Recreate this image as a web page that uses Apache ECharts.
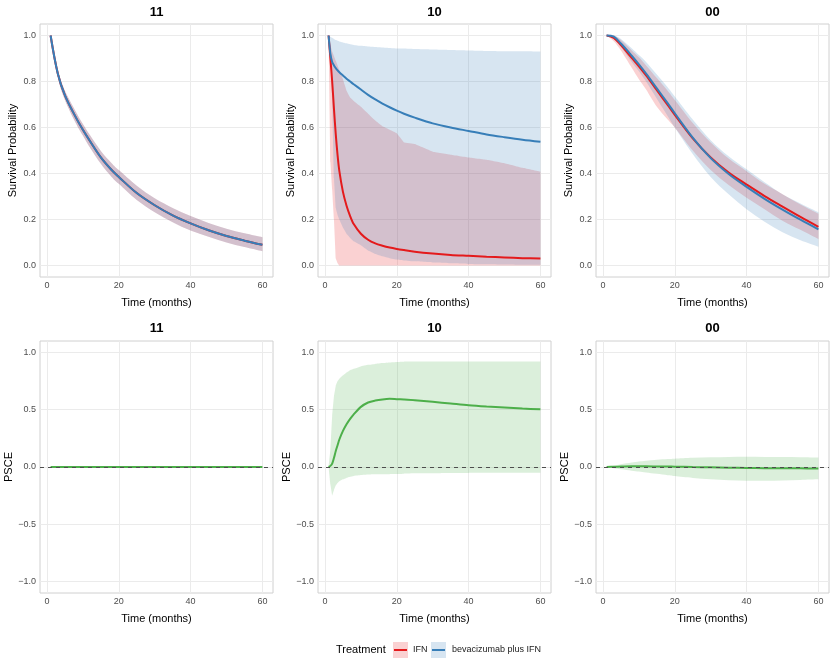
<!DOCTYPE html>
<html><head><meta charset="utf-8">
<script src="https://cdn.jsdelivr.net/npm/echarts@6/dist/echarts.min.js"></script>
<style>html,body{margin:0;padding:0;background:#fff}#c{width:836px;height:664px}</style>
</head><body><div id="c"></div>
<script>
// ---------------- DATA ----------------
const panelTitles = ['11', '10', '00'];
const xTicks = [0, 20, 40, 60];
const survTicks = [0, 0.2, 0.4, 0.6, 0.8, 1.0];
const psceTicks = [-1, -0.5, 0, 0.5, 1];
const treatments = ['IFN', 'bevacizumab plus IFN'];

const timeA = [1, 3, 5, 8, 10, 12, 15, 18, 20, 25, 30, 35, 40, 45, 50, 55, 60];
const time10 = [1, 1.5, 2, 2.5, 3, 3.5, 4, 5, 6, 7, 8, 10, 12, 14, 16, 18, 20, 22, 25, 30, 35, 40, 45, 50, 55, 60];

// Stratum 11 (timeA)
const ifnSurv11 = [1.0, 0.835, 0.74, 0.645, 0.59, 0.54, 0.47, 0.415, 0.385, 0.315, 0.262, 0.218, 0.183, 0.153, 0.128, 0.108, 0.09];
const ifnLo11   = [1.0, 0.82, 0.72, 0.62, 0.565, 0.512, 0.442, 0.385, 0.355, 0.285, 0.232, 0.188, 0.152, 0.125, 0.1, 0.08, 0.062];
const ifnHi11   = [1.0, 0.85, 0.76, 0.67, 0.615, 0.566, 0.498, 0.445, 0.415, 0.347, 0.292, 0.25, 0.215, 0.185, 0.16, 0.14, 0.123];
const bevSurv11 = [1.0, 0.835, 0.74, 0.645, 0.59, 0.54, 0.47, 0.415, 0.385, 0.315, 0.262, 0.218, 0.183, 0.153, 0.128, 0.108, 0.09];
const bevLo11   = [1.0, 0.82, 0.72, 0.62, 0.565, 0.512, 0.442, 0.385, 0.355, 0.285, 0.232, 0.188, 0.152, 0.125, 0.1, 0.08, 0.062];
const bevHi11   = [1.0, 0.85, 0.76, 0.67, 0.615, 0.566, 0.498, 0.445, 0.415, 0.347, 0.292, 0.25, 0.215, 0.185, 0.16, 0.14, 0.123];
const psce11    = [0, 0, 0, 0, 0, 0, 0, 0, 0, 0, 0, 0, 0, 0, 0, 0, 0];
const psceLo11  = [0, -0.002, -0.002, -0.003, -0.003, -0.003, -0.003, -0.003, -0.003, -0.003, -0.003, -0.003, -0.003, -0.003, -0.003, -0.003, -0.003];
const psceHi11  = [0, 0.002, 0.002, 0.003, 0.003, 0.003, 0.003, 0.003, 0.003, 0.003, 0.003, 0.003, 0.003, 0.003, 0.003, 0.003, 0.003];

// Stratum 10 (time10)
const ifnSurv10 = [1.0, 0.9, 0.8, 0.68, 0.57, 0.48, 0.41, 0.32, 0.26, 0.215, 0.18, 0.138, 0.112, 0.096, 0.086, 0.078, 0.072, 0.067, 0.06, 0.052, 0.046, 0.042, 0.038, 0.035, 0.032, 0.03];
const ifnLo10   = [1.0, 0.45, 0.33, 0.2, 0.03, 0.01, 0.0, 0, 0, 0, 0, 0, 0, 0, 0, 0, 0, 0, 0, 0, 0, 0, 0, 0, 0, 0];
const ifnHi10   = [1.0, 0.96, 0.93, 0.91, 0.89, 0.87, 0.85, 0.81, 0.76, 0.73, 0.715, 0.69, 0.66, 0.63, 0.605, 0.59, 0.575, 0.535, 0.528, 0.495, 0.482, 0.47, 0.46, 0.445, 0.425, 0.408];
const bevSurv10 = [1.0, 0.92, 0.885, 0.87, 0.858, 0.848, 0.84, 0.826, 0.812, 0.8, 0.788, 0.765, 0.742, 0.722, 0.704, 0.688, 0.673, 0.66, 0.643, 0.618, 0.6, 0.585, 0.57, 0.558, 0.547, 0.538];
const bevLo10   = [1.0, 0.93, 0.72, 0.38, 0.25, 0.22, 0.2, 0.165, 0.138, 0.12, 0.105, 0.088, 0.065, 0.05, 0.04, 0.032, 0.026, 0.022, 0.018, 0.013, 0.01, 0.007, 0.005, 0.004, 0.003, 0.003];
const bevHi10   = [1.0, 0.995, 0.99, 0.985, 0.98, 0.977, 0.974, 0.97, 0.966, 0.962, 0.959, 0.955, 0.952, 0.95, 0.948, 0.946, 0.944, 0.943, 0.941, 0.939, 0.937, 0.935, 0.933, 0.932, 0.931, 0.93];
const psce10    = [0, 0.01, 0.03, 0.08, 0.14, 0.19, 0.24, 0.315, 0.373, 0.42, 0.46, 0.525, 0.563, 0.58, 0.59, 0.595, 0.592, 0.589, 0.583, 0.569, 0.554, 0.539, 0.528, 0.519, 0.51, 0.504];
const psceLo10  = [0, -0.15, -0.25, -0.2, -0.16, -0.14, -0.125, -0.108, -0.095, -0.085, -0.078, -0.07, -0.066, -0.064, -0.063, -0.063, -0.062, -0.058, -0.055, -0.055, -0.053, -0.052, -0.051, -0.05, -0.05, -0.05];
const psceHi10  = [0, 0.15, 0.45, 0.62, 0.71, 0.75, 0.77, 0.8, 0.825, 0.845, 0.857, 0.878, 0.892, 0.9, 0.907, 0.913, 0.917, 0.919, 0.92, 0.92, 0.92, 0.921, 0.921, 0.921, 0.921, 0.921];

// Stratum 00 (timeA)
const ifnSurv00 = [1.0, 0.99, 0.958, 0.903, 0.866, 0.826, 0.762, 0.698, 0.655, 0.553, 0.47, 0.404, 0.352, 0.302, 0.256, 0.211, 0.168];
const ifnLo00   = [1.0, 0.975, 0.935, 0.86, 0.81, 0.765, 0.69, 0.635, 0.6, 0.5, 0.415, 0.35, 0.295, 0.245, 0.195, 0.155, 0.115];
const ifnHi00   = [1.0, 1.0, 0.98, 0.935, 0.905, 0.87, 0.815, 0.76, 0.72, 0.62, 0.535, 0.465, 0.41, 0.355, 0.31, 0.265, 0.225];
const bevSurv00 = [1.0, 0.995, 0.965, 0.912, 0.874, 0.834, 0.77, 0.706, 0.662, 0.556, 0.467, 0.398, 0.342, 0.29, 0.243, 0.199, 0.157];
const bevLo00   = [1.0, 0.985, 0.95, 0.885, 0.845, 0.8, 0.725, 0.65, 0.6, 0.485, 0.385, 0.31, 0.245, 0.19, 0.145, 0.11, 0.082];
const bevHi00   = [1.0, 1.0, 0.985, 0.945, 0.915, 0.885, 0.83, 0.775, 0.735, 0.635, 0.545, 0.475, 0.418, 0.362, 0.31, 0.27, 0.232];
const psce00    = [0, 0.002, 0.004, 0.006, 0.006, 0.006, 0.005, 0.004, 0.003, 0.0, -0.003, -0.006, -0.008, -0.01, -0.011, -0.012, -0.013];
const psceLo00  = [0, -0.01, -0.02, -0.032, -0.04, -0.048, -0.06, -0.072, -0.079, -0.095, -0.107, -0.116, -0.12, -0.12, -0.117, -0.113, -0.108];
const psceHi00  = [0, 0.012, 0.025, 0.04, 0.048, 0.055, 0.063, 0.07, 0.073, 0.08, 0.085, 0.088, 0.089, 0.088, 0.087, 0.085, 0.083];

// ---------------- STYLE ----------------
const FONT = 'Liberation Sans, Arial, Helvetica, sans-serif';
const RED = '#E41A1C', BLUE = '#377EB8', GREEN = '#4DAF4A';
const RED_F = 'rgba(228,26,28,0.2)', BLUE_F = 'rgba(55,126,184,0.2)', GREEN_F = 'rgba(77,175,74,0.2)';
const colLeft = [40, 318, 596];
const panelW = 233;
const rowTop = [24, 341];
const rowH = [253, 252];

const panels = [
  {t: timeA, ifn: ifnSurv11, ifnLo: ifnLo11, ifnHi: ifnHi11, bev: bevSurv11, bevLo: bevLo11, bevHi: bevHi11,
   p: psce11, pLo: psceLo11, pHi: psceHi11, smooth: 0.35, bandK: 1},
  {t: time10, ifn: ifnSurv10, ifnLo: ifnLo10, ifnHi: ifnHi10, bev: bevSurv10, bevLo: bevLo10, bevHi: bevHi10,
   p: psce10, pLo: psceLo10, pHi: psceHi10, smooth: 0.3, bandK: 0},
  {t: timeA, ifn: ifnSurv00, ifnLo: ifnLo00, ifnHi: ifnHi00, bev: bevSurv00, bevLo: bevLo00, bevHi: bevHi00,
   p: psce00, pLo: psceLo00, pHi: psceHi00, smooth: 0.35, bandK: 1}
];

const grids = [], xAxes = [], yAxes = [], series = [], graphics = [];

function fmtSurv(v) { return v.toFixed(1); }
function fmtPsce(v) { return (v < 0 ? '\u2212' : '') + Math.abs(v).toFixed(1); }

// Catmull-Rom style segments through screen points (k = 0 -> straight segments)
function segs(pts, k) {
  let s = '';
  for (let i = 0; i < pts.length - 1; i++) {
    const p0 = pts[i - 1] || pts[i], p1 = pts[i], p2 = pts[i + 1], p3 = pts[i + 2] || pts[i + 1];
    const c1x = p1[0] + (p2[0] - p0[0]) * k / 6, c1y = p1[1] + (p2[1] - p0[1]) * k / 6;
    const c2x = p2[0] - (p3[0] - p1[0]) * k / 6, c2y = p2[1] - (p3[1] - p1[1]) * k / 6;
    s += ' C' + c1x.toFixed(2) + ',' + c1y.toFixed(2) + ' ' + c2x.toFixed(2) + ',' + c2y.toFixed(2) + ' ' + p2[0].toFixed(2) + ',' + p2[1].toFixed(2);
  }
  return s;
}

function bandSeries(gi, t, lo, hi, color, k) {
  return {
    type: 'custom', xAxisIndex: gi, yAxisIndex: gi, coordinateSystem: 'cartesian2d', silent: true, z: 1,
    data: t.map((x, i) => [x, lo[i], hi[i]]), encode: {x: 0, y: [1, 2]},
    renderItem: function (params, api) {
      if (params.dataIndex !== 0) return null;
      const n = params.dataInsideLength;
      const top = [], bot = [];
      for (let i = 0; i < n; i++) {
        const x = api.value(0, i);
        top.push(api.coord([x, api.value(2, i)]));
        bot.push(api.coord([x, api.value(1, i)]));
      }
      bot.reverse();
      const d = 'M' + top[0][0].toFixed(2) + ',' + top[0][1].toFixed(2) + segs(top, k) +
        ' L' + bot[0][0].toFixed(2) + ',' + bot[0][1].toFixed(2) + segs(bot, k) + ' Z';
      return {type: 'path', shape: {pathData: d}, style: {fill: color}};
    }
  };
}
function lineSeries(gi, t, v, color, smooth, z) {
  return {type: 'line', xAxisIndex: gi, yAxisIndex: gi, data: t.map((x, i) => [x, v[i]]),
    symbol: 'none', smooth: smooth, silent: true, lineStyle: {color: color, width: 2}, z: z};
}

for (let r = 0; r < 2; r++) {
  for (let c = 0; c < 3; c++) {
    const gi = r * 3 + c;
    grids.push({left: colLeft[c], top: rowTop[r], width: panelW, height: rowH[r], show: true,
      borderColor: '#d0d0d0', borderWidth: 1, backgroundColor: 'transparent', containLabel: false});
    xAxes.push({gridIndex: gi, type: 'value', min: -1.95, max: 62.95,
      axisLine: {show: false}, axisTick: {show: false, customValues: xTicks},
      axisLabel: {customValues: xTicks, color: '#4d4d4d', fontSize: 9, margin: 4, fontFamily: FONT},
      splitLine: {show: true, lineStyle: {color: '#ebebeb', width: 1}},
      name: 'Time (months)', nameLocation: 'middle', nameGap: 20,
      nameTextStyle: {color: '#000', fontSize: 11, fontFamily: FONT}});
    const isTop = r === 0;
    yAxes.push({gridIndex: gi, type: 'value',
      min: isTop ? -0.05 : -1.1, max: isTop ? 1.05 : 1.1,
      axisLine: {show: false}, axisTick: {show: false, customValues: isTop ? survTicks : psceTicks},
      axisLabel: {customValues: isTop ? survTicks : psceTicks, color: '#4d4d4d', fontSize: 9, margin: 4,
        fontFamily: FONT, formatter: isTop ? fmtSurv : fmtPsce},
      splitLine: {show: true, lineStyle: {color: '#ebebeb', width: 1}},
      name: isTop ? 'Survival Probability' : 'PSCE', nameLocation: 'middle', nameGap: 22,
      nameTextStyle: {color: '#000', fontSize: 11, fontFamily: FONT}});
    graphics.push({type: 'text', x: colLeft[c] + panelW / 2, y: isTop ? 12 : 328,
      style: {text: panelTitles[c], align: 'center', verticalAlign: 'middle',
        font: 'bold 13px ' + FONT, fill: '#000'}});

    const P = panels[c];
    if (isTop) {
      series.push(bandSeries(gi, P.t, P.ifnLo, P.ifnHi, RED_F, P.bandK));
      series.push(bandSeries(gi, P.t, P.bevLo, P.bevHi, BLUE_F, P.bandK));
      series.push(lineSeries(gi, P.t, P.ifn, RED, P.smooth, 3));
      series.push(lineSeries(gi, P.t, P.bev, BLUE, P.smooth, 4));
    } else {
      series.push(bandSeries(gi, P.t, P.pLo, P.pHi, GREEN_F, P.bandK));
      const ls = lineSeries(gi, P.t, P.p, GREEN, P.smooth, 3);
      ls.markLine = {silent: true, symbol: ['none', 'none'], label: {show: false},
        lineStyle: {color: '#4d4d4d', type: [4, 4], width: 1}, data: [{yAxis: 0}], z: 5};
      series.push(ls);
    }
  }
}

// legend (Treatment)
const legY = 650;
graphics.push({type: 'text', x: 336, y: legY, style: {text: 'Treatment', align: 'left', verticalAlign: 'middle', font: '11px ' + FONT, fill: '#000'}});
const keyX = [393, 431], txtX = [413, 452], keyFill = [RED_F, BLUE_F], keyLine = [RED, BLUE];
for (let k = 0; k < 2; k++) {
  graphics.push({type: 'rect', shape: {x: keyX[k], y: legY - 8, width: 15, height: 16}, style: {fill: keyFill[k]}});
  graphics.push({type: 'line', shape: {x1: keyX[k] + 1, y1: legY, x2: keyX[k] + 14, y2: legY}, style: {stroke: keyLine[k], lineWidth: 2}});
  graphics.push({type: 'text', x: txtX[k], y: legY, style: {text: treatments[k], align: 'left', verticalAlign: 'middle', font: '9px ' + FONT, fill: '#1a1a1a'}});
}

const chart = echarts.init(document.getElementById('c'), null, {renderer: 'canvas'});
chart.setOption({
  animation: false,
  backgroundColor: '#ffffff',
  textStyle: {fontFamily: FONT},
  grid: grids, xAxis: xAxes, yAxis: yAxes, series: series, graphic: graphics
});
</script></body></html>
